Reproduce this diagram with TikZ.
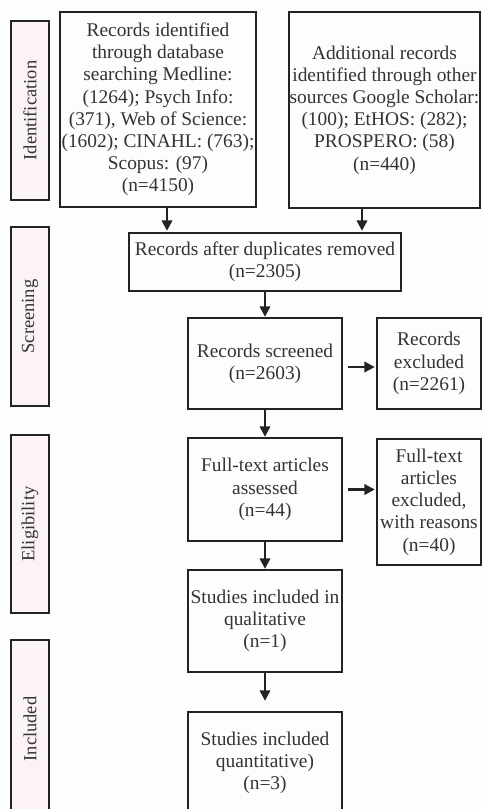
\documentclass[tikz,border=0pt]{standalone}
\usepackage{fontspec}
\setmainfont{Liberation Serif}
\usetikzlibrary{arrows.meta}
\definecolor{bgcol}{HTML}{FDFDFB}
\definecolor{inkcol}{HTML}{232323}
\definecolor{txtcol}{HTML}{333333}
\definecolor{stagefill}{HTML}{FCF4F4}
\begin{document}
\begin{tikzpicture}[x=1pt,y=-1pt,
  box/.style={draw=inkcol, line width=2.4pt, fill=bgcol, rectangle, inner sep=0pt,
    align=center, text=txtcol, font=\fontsize{19.4}{22.2}\selectfont},
  stage/.style={draw=inkcol, line width=2.2pt, fill=stagefill, rectangle, inner sep=0pt,
    rotate=90, minimum height=38pt, text=txtcol, font=\fontsize{18.5}{21}\selectfont},
  arr/.style={draw=inkcol, line width=2.3pt, -{Triangle[length=10.5pt,width=10.5pt]}}]
  \useasboundingbox (0,0) rectangle (482,809);
  \fill[bgcol] (0,0) rectangle (482,809);
  \begin{scope}
  \clip (0,0) rectangle (482,809);

  % stage labels down the left margin
  \node[stage, minimum width=179pt] (sid)  at (30,110.5) {Identification};
  \node[stage, minimum width=179pt] (sscr) at (30,316.5) {Screening};
  \node[stage, minimum width=178pt] (selg) at (30,524)   {Eligibility};
  \node[stage, minimum width=178pt] (sinc) at (30,729)   {Included};

  % identification
  \node[box, minimum width=196pt, minimum height=195pt] (db) at (158,109.5)
    {Records identified\\through database\\searching Medline:\\(1264); Psych Info:\\(371), Web of Science:\\(1602); CINAHL: (763);\\Scopus: (97)\\(n=4150)};
  \node[box, minimum width=191pt, minimum height=196pt] (other) at (384.5,110)
    {Additional records\\identified through other\\sources Google Scholar:\\(100); EtHOS: (282);\\PROSPERO: (58)\\(n=440)};

  % screening
  \node[box, minimum width=272pt, minimum height=58pt] (dup) at (265,262)
    {Records after duplicates removed\\(n=2305)};
  \node[box, minimum width=154pt, minimum height=91pt] (scr) at (265,363.5)
    {Records screened\\(n=2603)};
  \node[box, minimum width=104pt, minimum height=91pt] (exc) at (429,363.5)
    {Records\\excluded\\(n=2261)};

  % eligibility
  \node[box, minimum width=154pt, minimum height=103pt] (full) at (265,489.5)
    {Full-text articles\\assessed\\(n=44)};
  \node[box, minimum width=104pt, minimum height=126pt] (fexc) at (429,502)
    {Full-text\\articles\\excluded,\\with reasons\\(n=40)};

  % included
  \node[box, minimum width=154pt, minimum height=102pt] (qual) at (265,621)
    {Studies included in\\qualitative\\(n=1)};
  \node[box, minimum width=154pt, minimum height=102pt] (quant) at (265,763)
    {Studies included\\quantitative)\\(n=3)};

  % connectors
  \coordinate (ca) at (167,0);
  \coordinate (cb) at (362,0);
  \draw[arr] (ca |- db.south) -- ([yshift=1pt]ca |- dup.north);
  \draw[arr] (cb |- other.south) -- ([yshift=1pt]cb |- dup.north);
  \draw[arr] (dup.south) -- (scr.north);
  \draw[arr, shorten <=5pt, shorten >=1pt] ([yshift=-3.5pt]scr.east) -- ([yshift=-3.5pt]exc.west);
  \draw[arr] (scr.south) -- (full.north);
  \draw[arr, shorten <=5pt, shorten >=1pt] (full.east) -- (full.east -| fexc.west);
  \draw[arr] (full.south) -- (qual.north);
  \draw[arr] (qual.south) -- ([yshift=10pt]quant.north);
  \end{scope}
\end{tikzpicture}
\end{document}
